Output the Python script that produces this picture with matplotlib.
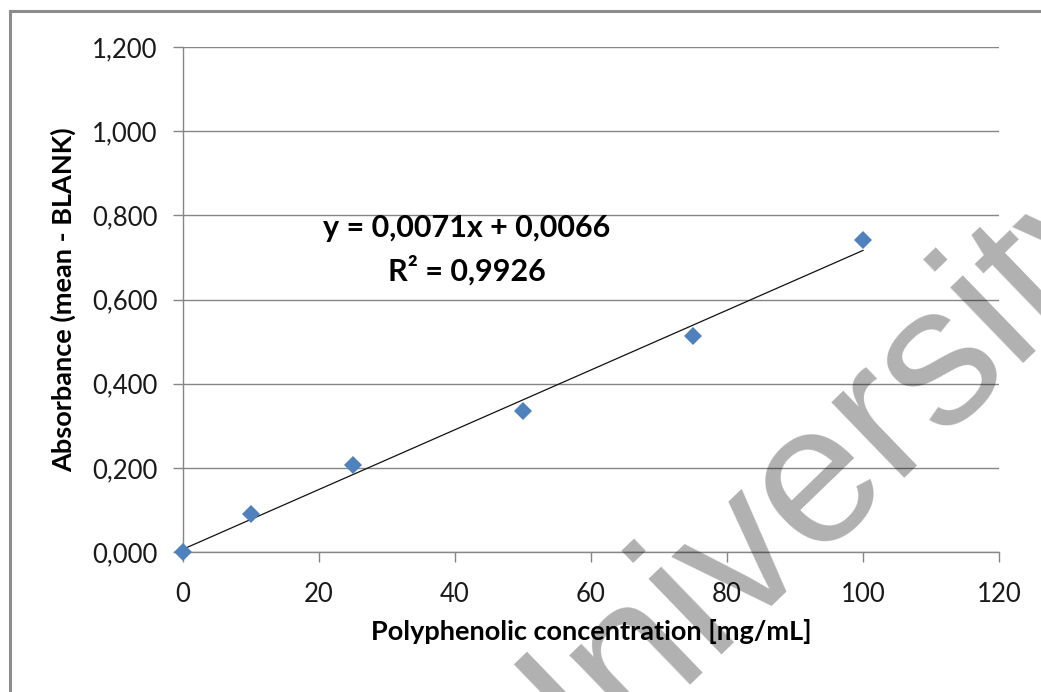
import matplotlib
matplotlib.use('Agg')
import matplotlib.pyplot as plt
from matplotlib.lines import Line2D
from matplotlib.ticker import FuncFormatter
import numpy as np

# measured points
concentration = [0, 10, 25, 50, 75, 100]
absorbance = [0.000, 0.090, 0.207, 0.335, 0.513, 0.741]

# Excel linear trendline
slope = 0.0071
intercept = 0.0066
r_squared = 0.9926

x_ticks = [0, 20, 40, 60, 80, 100, 120]
y_ticks = [0.0, 0.2, 0.4, 0.6, 0.8, 1.0, 1.2]

plt.rcParams['font.family'] = ['Lato', 'DejaVu Sans']

fig = plt.figure(figsize=(10.41, 6.92), dpi=100)
ax = fig.add_axes([183 / 1041, 1 - 552 / 692, (999 - 183) / 1041, (552 - 47) / 692])

grid_col = '#868686'
ax.set_xlim(0, 120)
ax.set_ylim(0, 1.2)
ax.set_xticks(x_ticks)
ax.set_yticks(y_ticks)
ax.yaxis.set_major_formatter(FuncFormatter(lambda v, p: f'{v:.3f}'.replace('.', ',')))
ax.xaxis.set_major_formatter(FuncFormatter(lambda v, p: f'{v:.0f}'))
ax.grid(axis='y', color=grid_col, lw=1.0)
ax.set_axisbelow(True)
for side in ['top', 'right']:
    ax.spines[side].set_visible(False)
for side in ['left', 'bottom']:
    ax.spines[side].set_color(grid_col)
    ax.spines[side].set_linewidth(1.0)
ax.tick_params(axis='both', direction='out', length=7.5, width=1.0, color=grid_col,
               labelsize=18.5, labelcolor='#1a1a1a')
ax.tick_params(axis='y', pad=11)
ax.tick_params(axis='x', pad=14)

# trendline
tx = np.array([min(concentration), max(concentration)])
ax.plot(tx, slope * tx + intercept, color='#111111', lw=0.9, zorder=3)

ax.plot(concentration, absorbance, linestyle='none', marker='D', markersize=9,
        color='#4F81BD', markeredgewidth=0, zorder=4, clip_on=False)

ax.set_xlabel('Polyphenolic concentration [mg/mL]', fontsize=19.5, fontweight='bold',
              labelpad=9)
ax.set_ylabel('Absorbance (mean - BLANK)', fontsize=19.5, fontweight='bold', labelpad=11)

eq = f'y = {slope:.4f}x + {intercept:.4f}'.replace('.', ',')
ax.text(467 / 1041, 1 - 228 / 692, eq, transform=fig.transFigure, ha='center', va='center',
        fontsize=22, fontweight='bold')
ax.text(467 / 1041, 1 - 270 / 692, 'R² = ' + f'{r_squared:.4f}'.replace('.', ','),
        transform=fig.transFigure, ha='center', va='center', fontsize=22, fontweight='bold')

# outer frame (top and left edges visible)
fig.add_artist(Line2D([9.5 / 1041, 9.5 / 1041], [0, 1 - 11 / 692], transform=fig.transFigure,
                      color='#8c8c8c', lw=2.2))
fig.add_artist(Line2D([9.5 / 1041, 1], [1 - 11 / 692, 1 - 11 / 692], transform=fig.transFigure,
                      color='#8c8c8c', lw=2.2))

# watermark
fig.text(840 / 1041, 1 - 526 / 692, 'University', fontsize=143, family='Liberation Sans',
         color='black', alpha=0.31, rotation=44, rotation_mode='anchor',
         ha='center', va='baseline', zorder=10)

fig.savefig('out.png', dpi=100)
